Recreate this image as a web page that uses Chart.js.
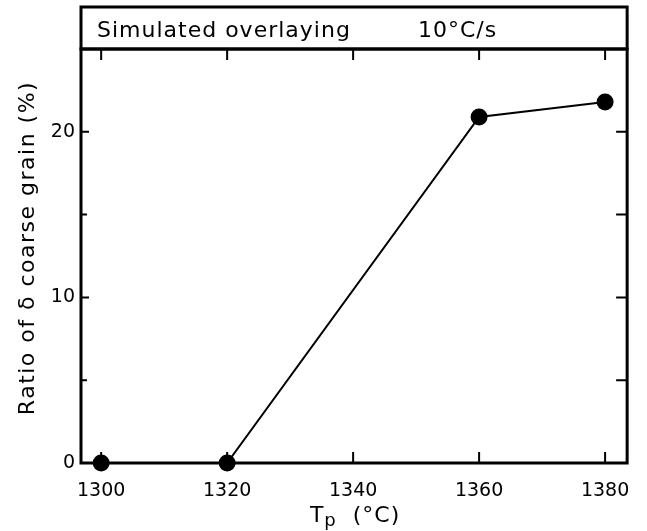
<!DOCTYPE html>
<html>
<head>
<meta charset="utf-8">
<script src="https://cdn.jsdelivr.net/npm/chart.js@4.4.1/dist/chart.umd.min.js"></script>
<style>
html,body{margin:0;padding:0;background:#fff;}
#wrap{width:647px;height:531px;}
</style>
</head>
<body>
<div id="wrap"><canvas id="c" width="647" height="531"></canvas></div>
<script>
const temperatures = [1300, 1320, 1360, 1380];
const coarseRatio = [0, 0, 20.9, 21.8];
const xTickValues = [1300, 1320, 1340, 1360, 1380];
const yTickValues = [0, 10, 20];
const yMinorTicks = [5, 10, 15, 20];
const titleLeft = 'Simulated overlaying';
const titleRight = '10\u00B0C/s';
const yTitle = 'Ratio of \u03B4 coarse grain (%)';

const FONT = '"DejaVu Sans", sans-serif';

const framePlugin = {
  id: 'frame',
  afterDraw(chart) {
    const {ctx, chartArea: a, scales: {x, y}} = chart;
    ctx.save();
    ctx.strokeStyle = '#000';
    ctx.lineCap = 'square';
    ctx.lineWidth = 3;
    ctx.strokeRect(a.left, 7, a.right - a.left, a.top - 7);
    ctx.strokeRect(a.left, a.top, a.right - a.left, a.bottom - a.top);
    ctx.lineWidth = 2;
    ctx.lineCap = 'butt';
    ctx.beginPath();
    xTickValues.forEach(v => {
      const px = x.getPixelForValue(v);
      ctx.moveTo(px, a.bottom); ctx.lineTo(px, a.bottom - 11);
      ctx.moveTo(px, a.top); ctx.lineTo(px, a.top + 11);
    });
    yMinorTicks.forEach(v => {
      const py = y.getPixelForValue(v);
      const len = (v % 10 === 0) ? 8 : 6;
      ctx.moveTo(a.left, py); ctx.lineTo(a.left + len, py);
      ctx.moveTo(a.right, py); ctx.lineTo(a.right - 11, py);
    });
    ctx.stroke();
    ctx.fillStyle = '#000';
    ctx.textBaseline = 'alphabetic';
    ctx.textAlign = 'left';
    ctx.font = '22px ' + FONT;
    ctx.letterSpacing = '1px';
    ctx.fillText(titleLeft, 97, 37);
    ctx.fillText(titleRight, 418, 37);
    // y title
    ctx.save();
    ctx.translate(34, 248);
    ctx.rotate(-Math.PI / 2);
    ctx.textAlign = 'center';
    ctx.font = '22px ' + FONT;
    ctx.letterSpacing = '1.5px';
    ctx.fillText(yTitle, 0, 0);
    ctx.restore();
    // x title with subscript
    ctx.letterSpacing = '1px';
    const cx = (a.left + a.right) / 2 + 1;
    ctx.font = '22px ' + FONT;
    const wT = ctx.measureText('T').width;
    ctx.font = '18px ' + FONT;
    const wp = ctx.measureText('p').width;
    ctx.font = '22px ' + FONT;
    const rest = '  (\u00B0C)';
    const wr = ctx.measureText(rest).width;
    const sx = cx - (wT + wp + wr) / 2;
    ctx.fillText('T', sx, 522);
    ctx.font = '18px ' + FONT;
    ctx.fillText('p', sx + wT, 526);
    ctx.font = '22px ' + FONT;
    ctx.fillText(rest, sx + wT + wp, 522);
    ctx.restore();
  }
};

new Chart(document.getElementById('c'), {
  type: 'scatter',
  data: {
    datasets: [{
      data: temperatures.map((t, i) => ({x: t, y: coarseRatio[i]})),
      showLine: true,
      borderColor: '#000',
      backgroundColor: '#000',
      borderWidth: 2,
      pointRadius: 7.5,
      pointHoverRadius: 7.5,
      clip: false
    }]
  },
  options: {
    responsive: false,
    animation: false,
    events: [],
    layout: {padding: {top: 49, right: 18, left: 0, bottom: 0}},
    plugins: {legend: {display: false}, tooltip: {enabled: false}, title: {display: false}},
    scales: {
      x: {
        type: 'linear',
        min: 1296.8,
        max: 1383.5,
        afterBuildTicks: s => { s.ticks = xTickValues.map(v => ({value: v})); },
        afterFit: s => { s.height = 68; },
        grid: {display: false, drawTicks: false},
        border: {display: false},
        ticks: {color: '#000', font: {family: FONT, size: 19}, padding: 17, maxRotation: 0, autoSkip: false,
                callback: v => String(v)}
      },
      y: {
        type: 'linear',
        min: 0,
        max: 25,
        afterBuildTicks: s => { s.ticks = yTickValues.map(v => ({value: v})); },
        afterFit: s => { s.width = 81; },
        grid: {display: false, drawTicks: false},
        border: {display: false},
        ticks: {color: '#000', font: {family: FONT, size: 19}, padding: 6, callback: v => String(v)}
      }
    }
  },
  plugins: [framePlugin]
});
</script>
</body>
</html>
